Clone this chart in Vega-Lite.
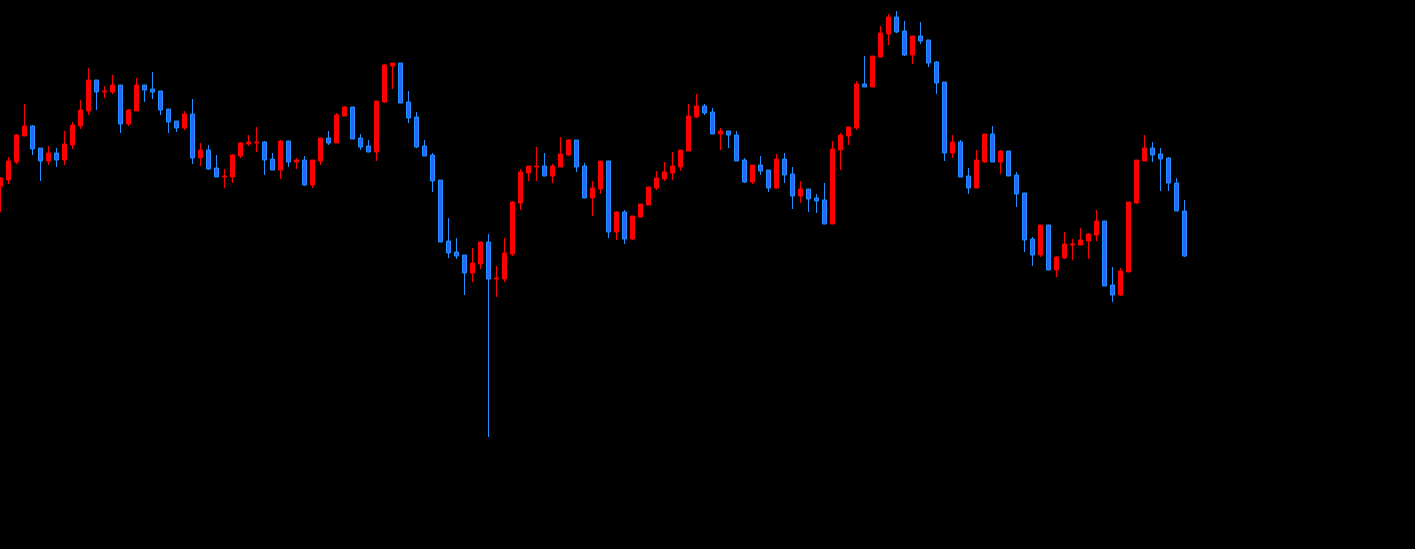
{
  "$schema": "https://vega.github.io/schema/vega-lite/v6.json",
  "width": 1415,
  "height": 549,
  "autosize": {"type": "none"},
  "padding": 0,
  "background": "#000000",
  "config": {"view": {"stroke": null}},
  "data": {"values": [
    {"i":0,"open":363,"high":372,"low":337,"close":371},
    {"i":1,"open":369,"high":392,"low":365,"close":388},
    {"i":2,"open":387,"high":415,"low":385,"close":414},
    {"i":3,"open":413,"high":445,"low":413,"close":423},
    {"i":4,"open":423,"high":424,"low":394,"close":400},
    {"i":5,"open":401,"high":401,"low":368,"close":388},
    {"i":6,"open":388,"high":403,"low":384,"close":396},
    {"i":7,"open":396,"high":401,"low":382,"close":389},
    {"i":8,"open":389,"high":418,"low":384,"close":405},
    {"i":9,"open":404,"high":427,"low":400,"close":424},
    {"i":10,"open":423,"high":449,"low":420,"close":439},
    {"i":11,"open":438,"high":481,"low":434,"close":469},
    {"i":12,"open":469,"high":469,"low":439,"close":457},
    {"i":13,"open":457,"high":463,"low":451,"close":458},
    {"i":14,"open":457,"high":474,"low":455,"close":464},
    {"i":15,"open":464,"high":464,"low":416,"close":425},
    {"i":16,"open":425,"high":440,"low":423,"close":439},
    {"i":17,"open":438,"high":471,"low":438,"close":464},
    {"i":18,"open":464,"high":464,"low":447,"close":459},
    {"i":19,"open":460,"high":477,"low":450,"close":457},
    {"i":20,"open":458,"high":458,"low":434,"close":439},
    {"i":21,"open":440,"high":440,"low":416,"close":427},
    {"i":22,"open":428,"high":428,"low":417,"close":421},
    {"i":23,"open":421,"high":438,"low":419,"close":435},
    {"i":24,"open":435,"high":450,"low":385,"close":391},
    {"i":25,"open":391,"high":406,"low":383,"close":399},
    {"i":26,"open":399,"high":404,"low":379,"close":380},
    {"i":27,"open":381,"high":394,"low":372,"close":372},
    {"i":28,"open":372,"high":380,"low":361,"close":373},
    {"i":29,"open":372,"high":395,"low":366,"close":394},
    {"i":30,"open":393,"high":407,"low":391,"close":406},
    {"i":31,"open":405,"high":414,"low":403,"close":407},
    {"i":32,"open":406,"high":422,"low":397,"close":407},
    {"i":33,"open":407,"high":408,"low":374,"close":389},
    {"i":34,"open":390,"high":396,"low":379,"close":379},
    {"i":35,"open":379,"high":409,"low":370,"close":408},
    {"i":36,"open":408,"high":408,"low":382,"close":387},
    {"i":37,"open":387,"high":391,"low":380,"close":389},
    {"i":38,"open":389,"high":393,"low":363,"close":364},
    {"i":39,"open":364,"high":389,"low":361,"close":389},
    {"i":40,"open":388,"high":411,"low":384,"close":411},
    {"i":41,"open":411,"high":418,"low":404,"close":406},
    {"i":42,"open":406,"high":436,"low":406,"close":434},
    {"i":43,"open":433,"high":443,"low":433,"close":442},
    {"i":44,"open":442,"high":442,"low":410,"close":410},
    {"i":45,"open":411,"high":415,"low":399,"close":402},
    {"i":46,"open":403,"high":409,"low":397,"close":397},
    {"i":47,"open":397,"high":448,"low":388,"close":448},
    {"i":48,"open":447,"high":485,"low":446,"close":484},
    {"i":49,"open":483,"high":486,"low":460,"close":486},
    {"i":50,"open":486,"high":486,"low":446,"close":446},
    {"i":51,"open":447,"high":458,"low":426,"close":431},
    {"i":52,"open":432,"high":437,"low":401,"close":402},
    {"i":53,"open":403,"high":409,"low":393,"close":393},
    {"i":54,"open":394,"high":396,"low":357,"close":368},
    {"i":55,"open":369,"high":369,"low":307,"close":307},
    {"i":56,"open":308,"high":331,"low":291,"close":296},
    {"i":57,"open":297,"high":311,"low":290,"close":293},
    {"i":58,"open":294,"high":294,"low":254,"close":276},
    {"i":59,"open":276,"high":301,"low":267,"close":286},
    {"i":60,"open":285,"high":307,"low":280,"close":307},
    {"i":61,"open":307,"high":315,"low":112,"close":270},
    {"i":62,"open":270,"high":283,"low":252,"close":271},
    {"i":63,"open":270,"high":311,"low":267,"close":296},
    {"i":64,"open":295,"high":348,"low":293,"close":347},
    {"i":65,"open":346,"high":380,"low":339,"close":377},
    {"i":66,"open":376,"high":383,"low":368,"close":383},
    {"i":67,"open":382,"high":402,"low":368,"close":383},
    {"i":68,"open":383,"high":396,"low":373,"close":373},
    {"i":69,"open":373,"high":385,"low":366,"close":383},
    {"i":70,"open":382,"high":412,"low":382,"close":395},
    {"i":71,"open":394,"high":410,"low":393,"close":409},
    {"i":72,"open":409,"high":409,"low":377,"close":382},
    {"i":73,"open":383,"high":386,"low":351,"close":351},
    {"i":74,"open":351,"high":368,"low":333,"close":361},
    {"i":75,"open":360,"high":388,"low":355,"close":388},
    {"i":76,"open":388,"high":388,"low":311,"close":317},
    {"i":77,"open":317,"high":338,"low":309,"close":337},
    {"i":78,"open":337,"high":339,"low":305,"close":310},
    {"i":79,"open":310,"high":333,"low":309,"close":333},
    {"i":80,"open":332,"high":345,"low":332,"close":345},
    {"i":81,"open":344,"high":362,"low":344,"close":362},
    {"i":82,"open":361,"high":378,"low":359,"close":371},
    {"i":83,"open":370,"high":387,"low":368,"close":377},
    {"i":84,"open":376,"high":397,"low":369,"close":383},
    {"i":85,"open":382,"high":399,"low":378,"close":399},
    {"i":86,"open":398,"high":445,"low":398,"close":433},
    {"i":87,"open":432,"high":455,"low":431,"close":443},
    {"i":88,"open":443,"high":445,"low":434,"close":436},
    {"i":89,"open":437,"high":441,"low":415,"close":415},
    {"i":90,"open":415,"high":421,"low":399,"close":418},
    {"i":91,"open":418,"high":418,"low":401,"close":414},
    {"i":92,"open":414,"high":418,"low":388,"close":388},
    {"i":93,"open":389,"high":391,"low":366,"close":367},
    {"i":94,"open":367,"high":384,"low":365,"close":384},
    {"i":95,"open":384,"high":393,"low":374,"close":378},
    {"i":96,"open":379,"high":379,"low":357,"close":361},
    {"i":97,"open":361,"high":395,"low":360,"close":390},
    {"i":98,"open":390,"high":396,"low":366,"close":374},
    {"i":99,"open":375,"high":382,"low":340,"close":353},
    {"i":100,"open":353,"high":368,"low":346,"close":360},
    {"i":101,"open":360,"high":360,"low":337,"close":350},
    {"i":102,"open":351,"high":355,"low":336,"close":348},
    {"i":103,"open":349,"high":366,"low":325,"close":325},
    {"i":104,"open":325,"high":408,"low":325,"close":400},
    {"i":105,"open":399,"high":416,"low":379,"close":414},
    {"i":106,"open":413,"high":422,"low":404,"close":422},
    {"i":107,"open":421,"high":468,"low":419,"close":465},
    {"i":108,"open":465,"high":493,"low":462,"close":462},
    {"i":109,"open":462,"high":493,"low":462,"close":493},
    {"i":110,"open":492,"high":523,"low":492,"close":516},
    {"i":111,"open":515,"high":535,"low":504,"close":532},
    {"i":112,"open":532,"high":538,"low":516,"close":517},
    {"i":113,"open":518,"high":528,"low":493,"close":494},
    {"i":114,"open":494,"high":513,"low":485,"close":513},
    {"i":115,"open":513,"high":527,"low":505,"close":508},
    {"i":116,"open":509,"high":509,"low":482,"close":486},
    {"i":117,"open":487,"high":488,"low":455,"close":466},
    {"i":118,"open":467,"high":467,"low":388,"close":396},
    {"i":119,"open":396,"high":414,"low":391,"close":407},
    {"i":120,"open":407,"high":409,"low":372,"close":372},
    {"i":121,"open":373,"high":381,"low":355,"close":361},
    {"i":122,"open":361,"high":399,"low":361,"close":389},
    {"i":123,"open":387,"high":415,"low":386,"close":415},
    {"i":124,"open":415,"high":423,"low":387,"close":387},
    {"i":125,"open":387,"high":399,"low":375,"close":398},
    {"i":126,"open":398,"high":398,"low":373,"close":373},
    {"i":127,"open":374,"high":377,"low":342,"close":355},
    {"i":128,"open":356,"high":356,"low":297,"close":309},
    {"i":129,"open":310,"high":312,"low":283,"close":294},
    {"i":130,"open":294,"high":324,"low":292,"close":324},
    {"i":131,"open":324,"high":324,"low":279,"close":279},
    {"i":132,"open":279,"high":293,"low":272,"close":292},
    {"i":133,"open":291,"high":317,"low":290,"close":305},
    {"i":134,"open":304,"high":310,"low":289,"close":305},
    {"i":135,"open":304,"high":321,"low":304,"close":309},
    {"i":136,"open":308,"high":316,"low":290,"close":315},
    {"i":137,"open":314,"high":339,"low":308,"close":328},
    {"i":138,"open":328,"high":328,"low":263,"close":263},
    {"i":139,"open":264,"high":282,"low":247,"close":254},
    {"i":140,"open":254,"high":281,"low":253,"close":278},
    {"i":141,"open":277,"high":347,"low":277,"close":347},
    {"i":142,"open":346,"high":389,"low":345,"close":389},
    {"i":143,"open":388,"high":414,"low":388,"close":401},
    {"i":144,"open":401,"high":407,"low":387,"close":394},
    {"i":145,"open":395,"high":401,"low":358,"close":390},
    {"i":146,"open":391,"high":392,"low":358,"close":366},
    {"i":147,"open":366,"high":371,"low":338,"close":338},
    {"i":148,"open":338,"high":349,"low":292,"close":293}
  ]},
  "encoding": {
    "x": {"field": "i", "type": "quantitative", "scale": {"domain": [-0.0625, 176.8125], "nice": false, "zero": false, "padding": 0}, "axis": null}
  },
  "layer": [
    {
      "mark": {"type": "rule", "strokeWidth": 1},
      "encoding": {
        "y": {"field": "low", "type": "quantitative", "scale": {"domain": [0, 549], "nice": false, "zero": false, "padding": 0}, "axis": null},
        "y2": {"field": "high"},
        "stroke": {"condition": {"test": "datum.close > datum.open", "value": "#FF0000"}, "value": "#1E90FF"}
      }
    },
    {
      "mark": {"type": "bar", "width": 4, "strokeWidth": 1, "orient": "vertical"},
      "encoding": {
        "y": {"field": "open", "type": "quantitative", "scale": {"domain": [0, 549], "nice": false, "zero": false, "padding": 0}, "axis": null},
        "y2": {"field": "close"},
        "fill": {"condition": {"test": "datum.close > datum.open", "value": "#FF0000"}, "value": "#2F62FF"},
        "stroke": {"condition": {"test": "datum.close > datum.open", "value": "#FF0000"}, "value": "#1E90FF"}
      }
    }
  ]
}
